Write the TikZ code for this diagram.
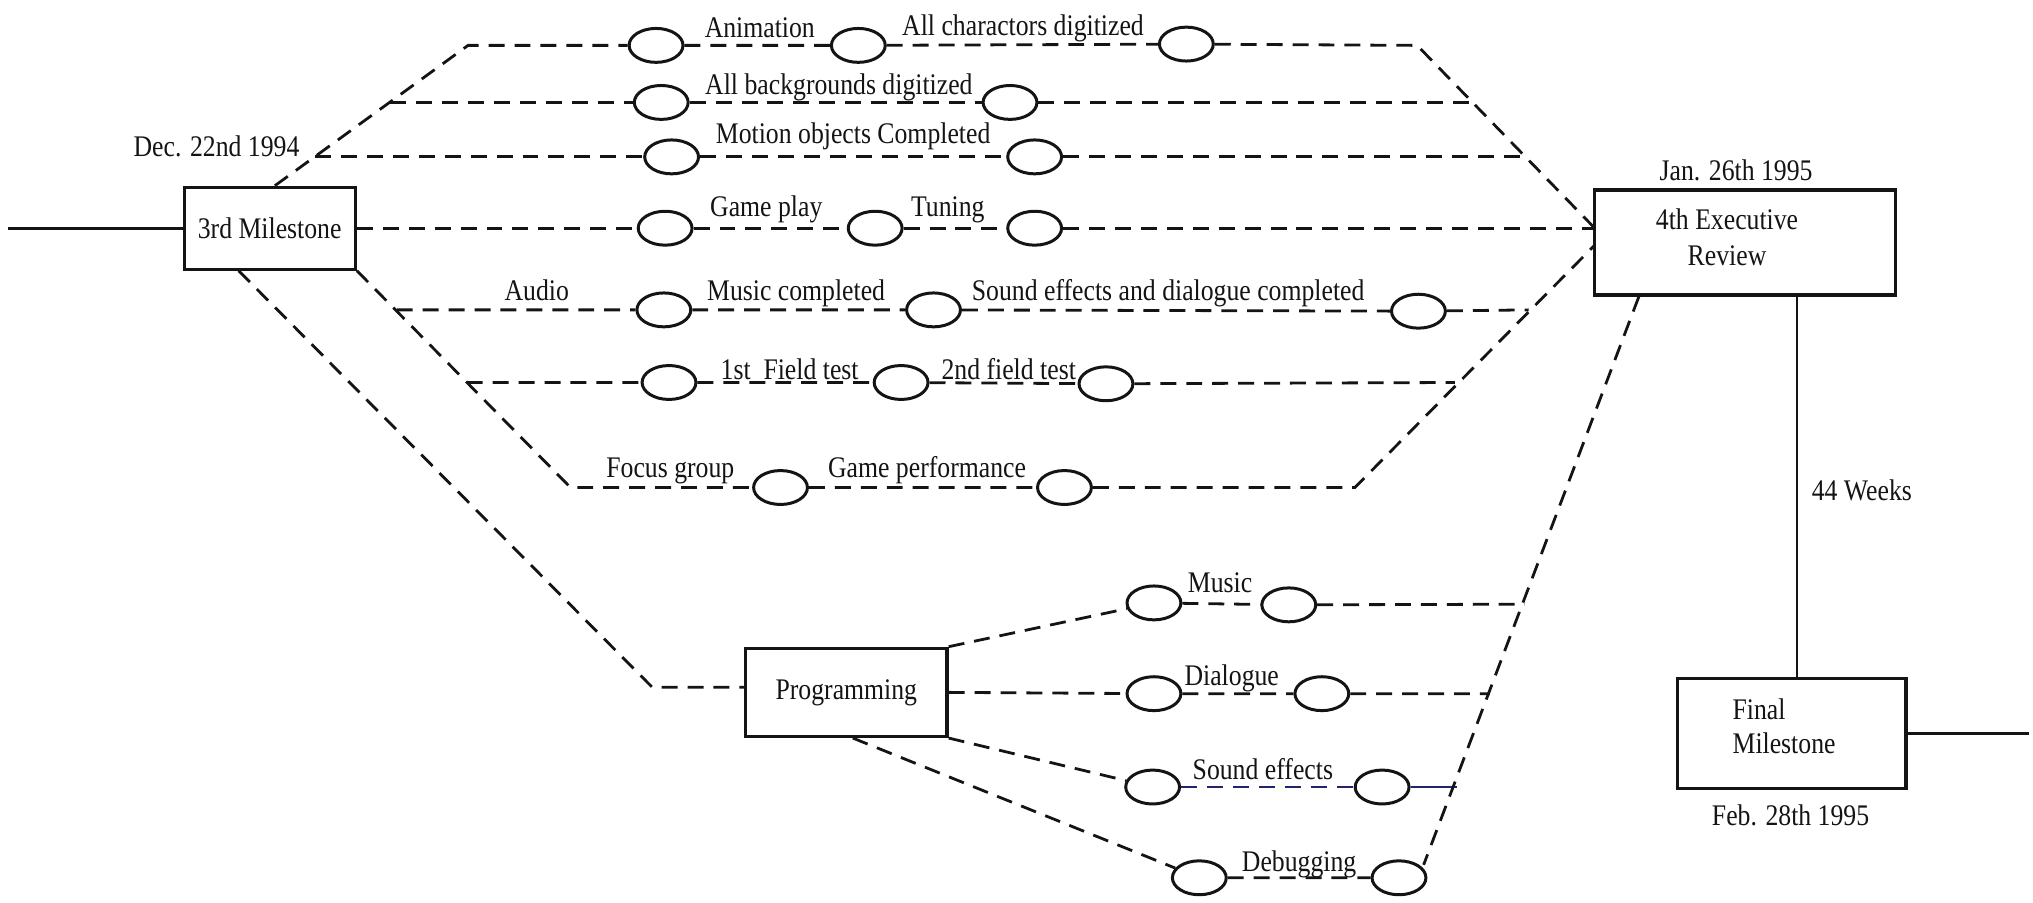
\documentclass[tikz,border=0pt]{standalone}
\usepackage{fontspec}
\setmainfont{Liberation Serif}[FakeStretch=0.86]
\usetikzlibrary{shapes.geometric,calc}
\definecolor{ink}{RGB}{20,20,20}
\definecolor{navyline}{RGB}{35,35,110}
\begin{document}
\begin{tikzpicture}[x=0.65pt,y=-0.65pt,
  every node/.style={font=\fontsize{15}{18}\selectfont, inner sep=0pt, text=ink},
  box/.style={draw=ink, line width=1.6pt, rectangle},
  ev/.style={draw=ink, ellipse, line width=1.5pt, minimum width=27pt, minimum height=17pt},
  dl/.style={draw=ink, line width=1.4pt, dash pattern=on 8pt off 5pt},
  sl/.style={draw=ink, line width=1.3pt},
  lbl/.style={anchor=base}]
\useasboundingbox (0,0) rectangle (1568,696);

% main boxes
\node[box, minimum width=85.8pt, minimum height=41pt] (ms3) at (208,176) {3rd Milestone};
\node[box, minimum width=150.8pt, minimum height=52.7pt] (exec) at (1346,187) {};
\node[align=center, font=\fontsize{15}{18}\selectfont] (execT) at (1332,183) {4th Executive\\Review};
\node[box, minimum width=114.4pt, minimum height=55.25pt] (final) at (1382,565.5) {};
\node[align=left, anchor=west, font=\fontsize{15}{17}\selectfont] (finalT) at (1336,560) {Final\\Milestone};
\node[box, minimum width=101pt, minimum height=44.2pt] (prog) at (652.75,534) {Programming};

% dates and labels
\node (dec) at (167,113) {Dec. 22nd 1994};
\node (jan) at (1339,131) {Jan. 26th 1995};
\node (feb) at (1381,629) {Feb. 28th 1995};
\node (weeks) at (1436,378) {44 Weeks};

% event ellipses
\node[ev] (e11) at (506,35) {};
\node[ev] (e12) at (662,35) {};
\node[ev] (e13) at (915,34) {};
\node[ev] (e21) at (510,79) {};
\node[ev] (e22) at (779,79) {};
\node[ev] (e31) at (518,121) {};
\node[ev] (e32) at (798,121) {};
\node[ev] (e41) at (513,176) {};
\node[ev] (e42) at (675,176) {};
\node[ev] (e43) at (798,176) {};
\node[ev] (e51) at (512,239) {};
\node[ev] (e52) at (720,239) {};
\node[ev] (e53) at (1094,240) {};
\node[ev] (e61) at (516,295) {};
\node[ev] (e62) at (695,295) {};
\node[ev] (e63) at (853,296) {};
\node[ev] (e71) at (602,376) {};
\node[ev] (e72) at (821,376) {};
\node[ev] (p11) at (890,465) {};
\node[ev] (p12) at (994,466.5) {};
\node[ev] (p21) at (890,535) {};
\node[ev] (p22) at (1019.5,535) {};
\node[ev] (p31) at (889,607) {};
\node[ev] (p32) at (1066,607) {};
\node[ev] (p41) at (925,677) {};
\node[ev] (p42) at (1079,677) {};

% activity labels
\node[lbl] (t1) at (586,29) {Animation};
\node[lbl] (t2) at (789,27) {All charactors digitized};
\node[lbl] (t3) at (647,73) {All backgrounds digitized};
\node[lbl] (t4) at (658,111) {Motion objects Completed};
\node[lbl] (t5) at (591,167) {Game play};
\node[lbl] (t6) at (731,167) {Tuning};
\node[lbl] (t7) at (414,232) {Audio};
\node[lbl] (t8) at (614,232) {Music completed};
\node[lbl] (t9) at (901,232) {Sound effects and dialogue completed};
\node[lbl] (t10) at (609,293) {1st\ \ Field test};
\node[lbl] (t11) at (778,293) {2nd field test};
\node[lbl] (t12) at (517,368) {Focus group};
\node[lbl] (t13) at (715,368) {Game performance};
\node[lbl] (t14) at (941,457) {Music};
\node[lbl] (t15) at (950,529) {Dialogue};
\node[lbl] (t16) at (974,601) {Sound effects};
\node[lbl] (t17) at (1002,672) {Debugging};

% junction coordinates
\coordinate (tl) at (361,35);
\coordinate (tr) at (1093,35);
\coordinate (j2l) at (301,79);
\coordinate (j2r) at (1137,79);
\coordinate (j3l) at (243,121);
\coordinate (j3r) at (1177,121);
\coordinate (x4) at (1230,176);
\coordinate (j5l) at (306,239);
\coordinate (j5r) at (1179,239);
\coordinate (j6l) at (360,295);
\coordinate (j6r) at (1122,295);
\coordinate (bl) at (440,376);
\coordinate (br) at (1045,376);
\coordinate (x7) at (1230,189);
\coordinate (pc) at (503,530);
\coordinate (pm) at (1176,466);
\coordinate (pd) at (1149,535);
\coordinate (ps) at (1124,607);
\coordinate (pdbg) at (1098,667);
\coordinate (lft) at (6,176);
\coordinate (rgt) at (1565,565.5);
\coordinate (vx) at (1386,0);

% connectors
\draw[sl] (lft) -- (ms3.west);
\draw[dl] ($(ms3.north)+(4,0)$) -- (tl) -- (e11) -- (e12) -- (e13) -- (tr) -- (x4);
\draw[dl] (j2l) -- (e21) -- (e22) -- (j2r);
\draw[dl] (j3l) -- (e31) -- (e32) -- (j3r);
\draw[dl] (ms3.east) -- (e41) -- (e42) -- (e43) -- (x4);
\draw[dl] (ms3.south east) -- (bl) -- (e71) -- (e72) -- (br) -- (x7);
\draw[dl] (j5l) -- (e51) -- (e52) -- (e53) -- (j5r);
\draw[dl] (j6l) -- (e61) -- (e62) -- (e63) -- (j6r);
\draw[dl] ($(ms3.south)+(-24,0)$) -- (pc) -- (pc -| prog.west);
\draw[dl] (prog.north east) -- (p11) -- (p12) -- (pm);
\draw[dl] (prog.east) -- (p21) -- (p22) -- (pd);
\draw[dl] (prog.south east) -- (p31);
\draw[dl, draw=navyline] (p31) -- (p32);
\draw[sl, draw=navyline] (p32) -- (ps);
\draw[dl] ($(prog.south)+(5,0)$) -- (p41) -- (p42);
\draw[dl] ($(exec.south)+(-82,0)$) -- (pdbg);
\draw[sl] (exec.south -| vx) -- (final.north -| vx);
\draw[sl] (final.east) -- (rgt);
\end{tikzpicture}
\end{document}
